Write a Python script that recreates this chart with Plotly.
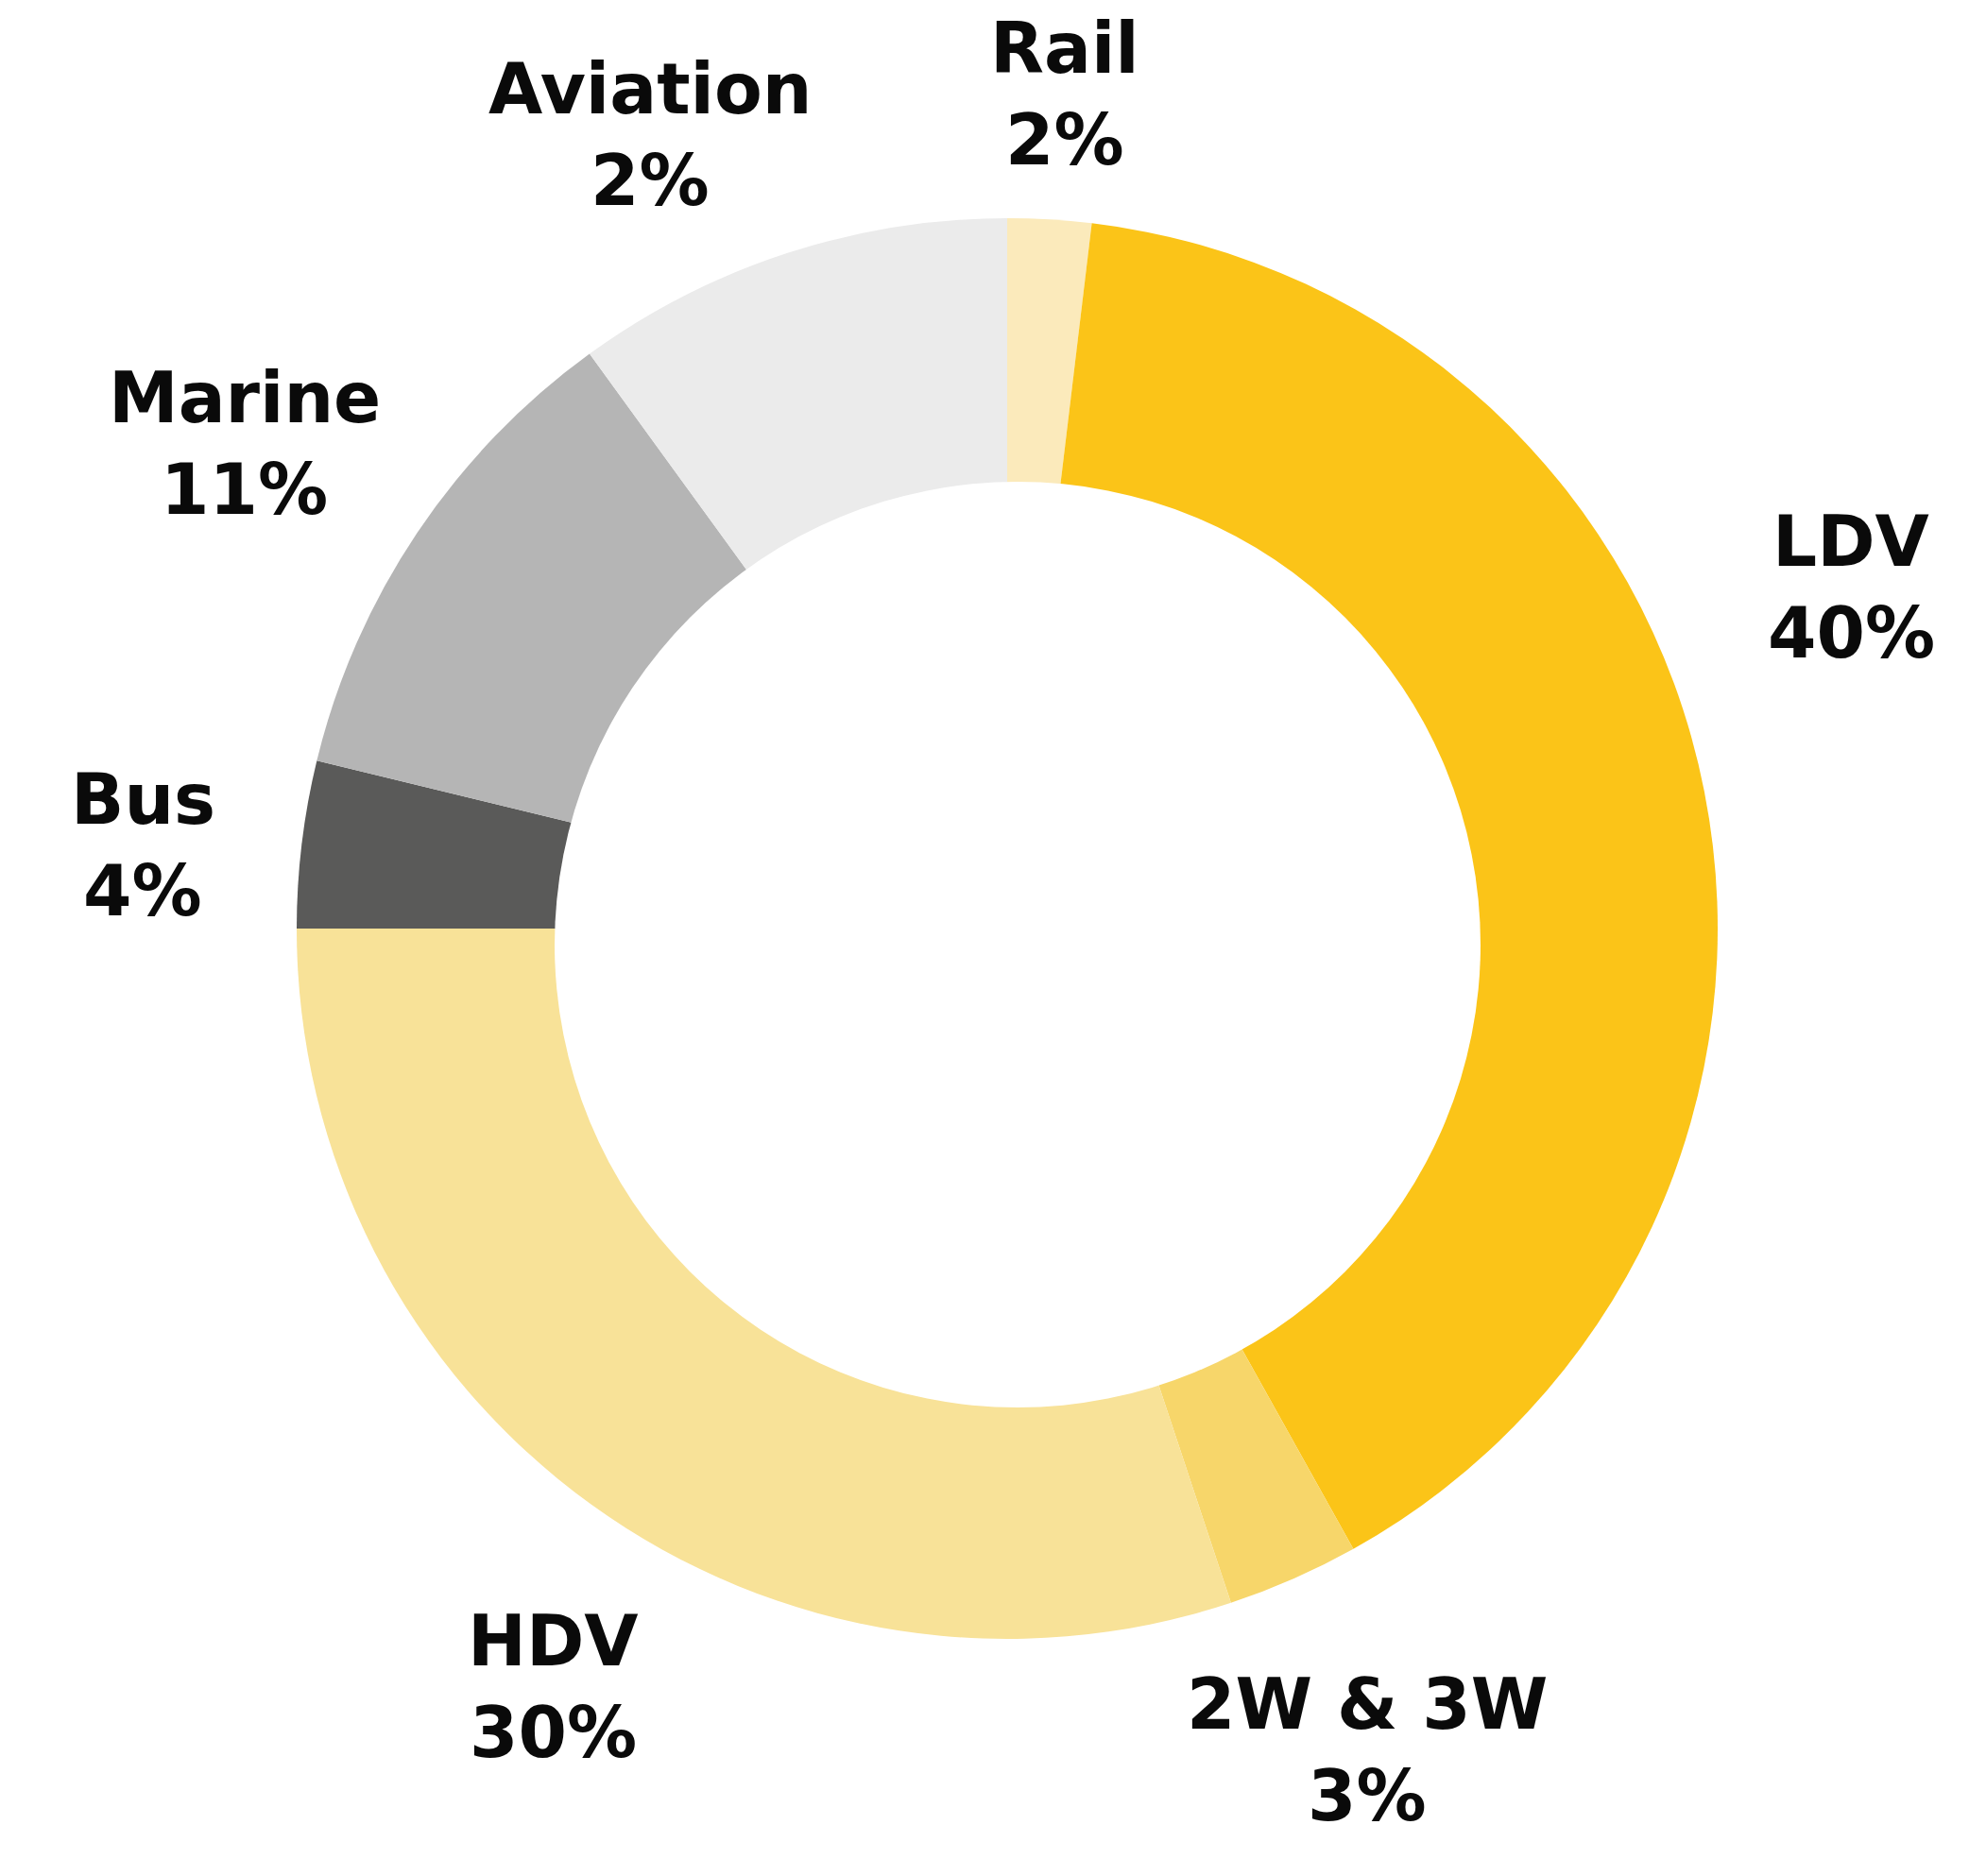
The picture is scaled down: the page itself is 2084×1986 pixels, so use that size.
import math
import plotly.graph_objects as go

# ---- data ----
categories = ["Rail", "LDV", "2W & 3W", "HDV", "Bus", "Marine", "Aviation"]
shares = [1.9, 40.0, 3.0, 30.1, 3.8, 11.2, 10.0]            # slice sizes read from the ring
label_pcts = ["2%", "40%", "3%", "30%", "4%", "11%", "2%"]  # printed labels

# ---- styles / layout ----
colors = ["#FBEABB", "#FBC418", "#F7D66A", "#F8E298", "#5A5A59", "#B5B5B5", "#EBEBEB"]
OFF = 8                      # default body margin of the html page
W, H = 2084 - 2 * OFF, 1986 - 2 * OFF
CX, CY, R = 1066.0, 983.0, 752.0          # ring centre / outer radius in page px
HCX, HCY, HR = 1077.0, 1000.0, 490.0      # the (slightly off-centre) hole
FONT = dict(family="DejaVu Sans", size=74, color="#0a0a0a", weight="bold")
LINE_GAP = 97.0
# label placement: angle shift (deg) from slice middle, radius factor
label_shift = [0.5, -10.9, 0.1, -4.9, -1.3, -1.4, -6.2]
label_rad = [1.178, 1.2816, 1.263, 1.2436, 1.2223, 1.2718, 1.2255]


def px_x(x):
    return (x - OFF) / W


def px_y(y):
    return 1 - (y - OFF) / H


fig = go.Figure(go.Pie(
    labels=categories, values=shares, sort=False, direction="clockwise",
    rotation=0, hole=0, textinfo="none", hoverinfo="label+percent",
    marker=dict(colors=colors, line=dict(width=0)), showlegend=False,
    domain=dict(x=[px_x(CX - R), px_x(CX + R)],
                y=[px_y(CY + R), px_y(CY - R)]),
))

# white centre of the ring
fig.add_shape(type="circle", xref="paper", yref="paper",
              x0=px_x(HCX - HR), x1=px_x(HCX + HR),
              y0=px_y(HCY + HR), y1=px_y(HCY - HR),
              fillcolor="white", line=dict(width=0), layer="above")

total = sum(shares)
cum = 0.0
for i, (name, pct) in enumerate(zip(categories, label_pcts)):
    mid = (cum + shares[i] / 2) / total * 360.0
    cum += shares[i]
    a = math.radians(mid + label_shift[i])
    r = R * label_rad[i]
    lx = CX + r * math.sin(a)
    ly = CY - r * math.cos(a)
    for txt, off in ((name, -LINE_GAP / 2), (pct, LINE_GAP / 2)):
        fig.add_annotation(x=px_x(lx), y=px_y(ly + off), xref="paper", yref="paper",
                           text=txt, showarrow=False, font=FONT,
                           xanchor="center", yanchor="middle")

fig.update_layout(width=W, height=H, margin=dict(l=0, r=0, t=0, b=0),
                  paper_bgcolor="white", plot_bgcolor="white")
fig.write_html("out.html")
